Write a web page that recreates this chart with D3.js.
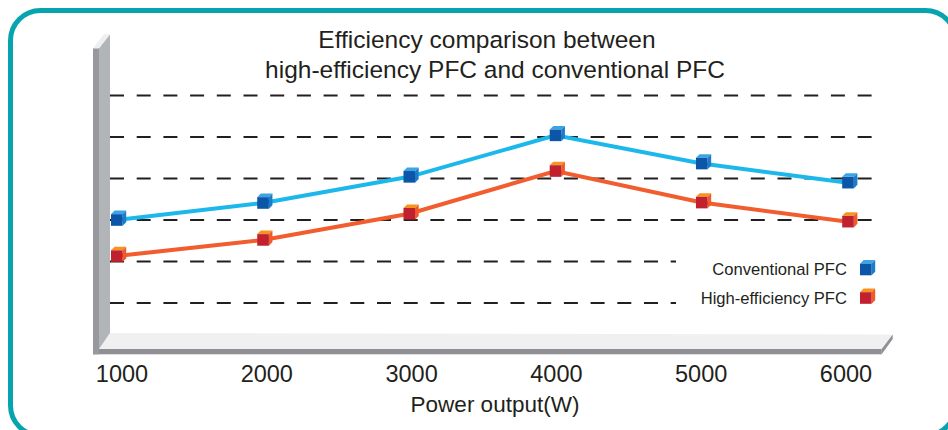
<!DOCTYPE html>
<html>
<head>
<meta charset="utf-8">
<script src="https://cdn.jsdelivr.net/npm/d3@7/dist/d3.min.js"></script>
<style>
  html, body { margin: 0; padding: 0; background: #ffffff; }
  svg { display: block; font-family: "Liberation Sans", Arial, Helvetica, sans-serif; }
</style>
</head>
<body>
<svg id="chart" width="948" height="430"></svg>
<script>
// ---- data ----
const powerOutputs = [1000, 2000, 3000, 4000, 5000, 6000];
const conventionalPFC = [94.0, 94.41, 95.04, 96.04, 95.36, 94.90];
const highEfficiencyPFC = [93.13, 93.52, 94.15, 95.18, 94.42, 93.96];
const gridValues = [92, 93, 94, 95, 96, 97];
const tickLabels = ["1000", "2000", "3000", "4000", "5000", "6000"];
const seriesNames = ["Conventional PFC", "High-efficiency PFC"];
const titleLines = ["Efficiency comparison between", "high-efficiency PFC and conventional PFC"];
const xTitle = "Power output(W)";

const svg = d3.select("#chart");
const W = 948, H = 430;

// scales
const x = d3.scaleLinear().domain([1000, 6000]).range([116.8, 848]);
const xLabel = d3.scaleLinear().domain([1000, 6000]).range([122, 846]);
const y = d3.scaleLinear().domain([92, 97]).range([303, 95.5]);

// ---- frame ----
svg.append("rect").attr("x", 0).attr("y", 0).attr("width", W).attr("height", H).attr("fill", "#fff");
svg.append("rect")
  .attr("x", 10.5).attr("y", 10.5).attr("width", 945).attr("height", 425)
  .attr("rx", 30).attr("ry", 30)
  .attr("fill", "#fff").attr("stroke", "#05a4ae").attr("stroke-width", 5);

// ---- 3D wall and floor ----
const wallL = 93, wallM = 99, wallR = 110, wallTop = 48.3, depth = 14, floorTop = 333, floorBot = 349, floorEdge = 354.3, floorR = 881.7;
svg.append("polygon")
  .attr("points", [[wallM, floorBot], [wallR, floorTop], [floorR + 11, floorTop + 1.5], [floorR, floorBot]].join(" "))
  .attr("fill", "#f0f0f0");
svg.append("rect").attr("x", wallL).attr("y", floorBot).attr("width", floorR - wallL).attr("height", floorEdge - floorBot)
  .attr("fill", "#909094");
svg.append("polygon")
  .attr("points", [[floorR, floorBot], [floorR + 11, floorTop + 1.5], [floorR + 11, floorTop + 6], [floorR, floorEdge]].join(" "))
  .attr("fill", "#909094");
svg.append("polygon")
  .attr("points", [[wallM, wallTop], [wallR, wallTop - depth], [wallR, floorTop], [wallM, floorBot]].join(" "))
  .attr("fill", "#b2b5b7");
svg.append("rect").attr("x", wallL).attr("y", wallTop).attr("width", wallM - wallL).attr("height", floorEdge - wallTop)
  .attr("fill", "#98999d");
svg.append("polygon")
  .attr("points", [[wallL, wallTop], [wallM, wallTop], [wallR, wallTop - depth], [wallR - (wallM - wallL), wallTop - depth]].join(" "))
  .attr("fill", "#efefef");

// ---- gridlines ----
const legendLeft = 676;
svg.append("g").selectAll("line").data(gridValues).join("line")
  .attr("x1", wallR).attr("x2", d => d < 94 ? legendLeft : 881)
  .attr("y1", d => y(d)).attr("y2", d => y(d))
  .attr("stroke", "#231f20").attr("stroke-width", 2)
  .attr("stroke-dasharray", "14,12.7");

// ---- lines ----
const line = d3.line().x((d, i) => x(powerOutputs[i])).y(d => y(d));
svg.append("path").datum(conventionalPFC).attr("d", line)
  .attr("fill", "none").attr("stroke", "#1cb8ec").attr("stroke-width", 4);
svg.append("path").datum(highEfficiencyPFC).attr("d", line)
  .attr("fill", "none").attr("stroke", "#f15d2e").attr("stroke-width", 4);

// ---- cube markers ----
const cubeColors = [
  { front: "#0b56a6", top: "#3ba4e4", side: "#1d7bcb" },
  { front: "#c1202f", top: "#f7941e", side: "#ef5a29" }
];
function cube(g, cx, cy, c) {
  const s = 11.6, o = 3.6;
  const x0 = cx - s / 2, y0 = cy - s / 2, x1 = cx + s / 2, y1 = cy + s / 2;
  g.append("polygon").attr("points", [[x0, y0], [x0 + o, y0 - o], [x1 + o, y0 - o], [x1, y0]].join(" ")).attr("fill", c.top);
  g.append("polygon").attr("points", [[x1, y0], [x1 + o, y0 - o], [x1 + o, y1 - o], [x1, y1]].join(" ")).attr("fill", c.side);
  g.append("rect").attr("x", x0).attr("y", y0).attr("width", s).attr("height", s).attr("fill", c.front);
}
const mk = svg.append("g");
conventionalPFC.forEach((v, i) => cube(mk, x(powerOutputs[i]), y(v), cubeColors[0]));
highEfficiencyPFC.forEach((v, i) => cube(mk, x(powerOutputs[i]), y(v), cubeColors[1]));

// ---- x tick labels ----
svg.append("g").selectAll("text").data(powerOutputs).join("text")
  .attr("x", d => xLabel(d)).attr("y", 382)
  .attr("text-anchor", "middle").attr("font-size", 23.5).attr("fill", "#231f20")
  .text((d, i) => tickLabels[i]);

// ---- axis title ----
svg.append("text").attr("x", 495).attr("y", 412).attr("text-anchor", "middle")
  .attr("font-size", 22.5).attr("fill", "#231f20").text(xTitle);

// ---- chart title ----
svg.append("text").attr("x", 487).attr("y", 48).attr("text-anchor", "middle")
  .attr("font-size", 24.5).attr("fill", "#231f20").text(titleLines[0]);
svg.append("text").attr("x", 495).attr("y", 78).attr("text-anchor", "middle")
  .attr("font-size", 24.5).attr("fill", "#231f20").text(titleLines[1]);

// ---- legend ----
const legY = [269.5, 298];
seriesNames.forEach((name, i) => {
  svg.append("text").attr("x", 847).attr("y", legY[i] + 5.5).attr("text-anchor", "end")
    .attr("font-size", 16.6).attr("fill", "#231f20").text(name);
  cube(svg, 865.8, legY[i], cubeColors[i]);
});
</script>
</body>
</html>
